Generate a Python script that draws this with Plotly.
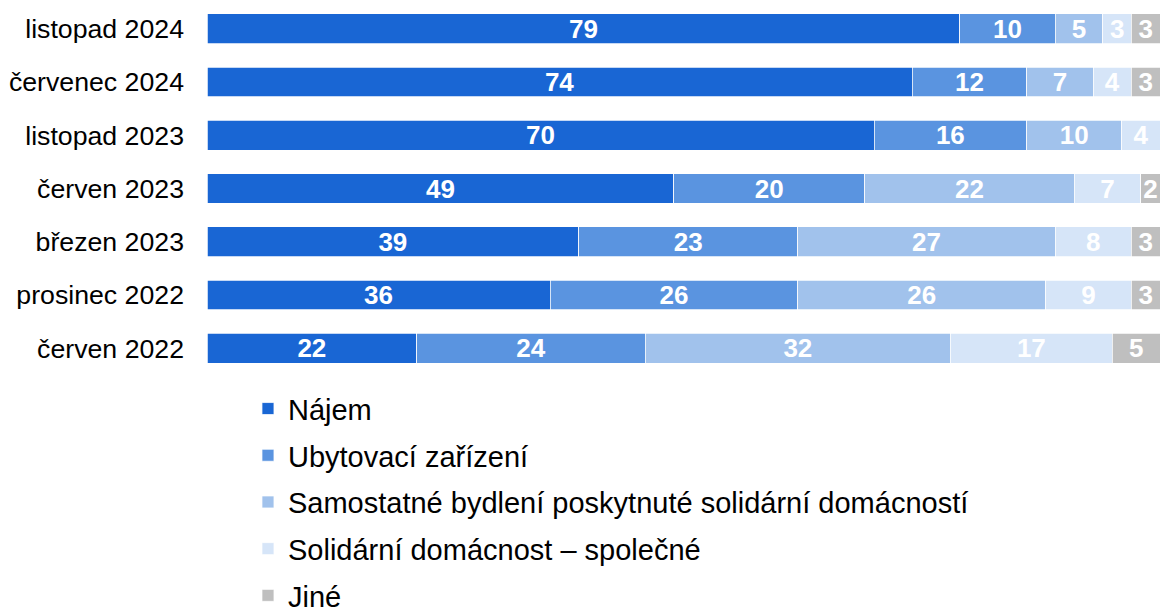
import plotly.graph_objects as go

PERIODS = [
    "listopad 2024",
    "červenec 2024",
    "listopad 2023",
    "červen 2023",
    "březen 2023",
    "prosinec 2022",
    "červen 2022",
]

SERIES = [
    "Nájem",
    "Ubytovací zařízení",
    "Samostatné bydlení poskytnuté solidární domácností",
    "Solidární domácnost – společné",
    "Jiné",
]

NAJEM = [79, 74, 70, 49, 39, 36, 22]
UBYTOVACI = [10, 12, 16, 20, 23, 26, 24]
SAMOSTATNE = [5, 7, 10, 22, 27, 26, 32]
SOLIDARNI = [3, 4, 4, 7, 8, 9, 17]
JINE = [3, 3, None, 2, 3, 3, 5]

COLORS = ["#1966D4", "#5A94E0", "#A1C2EC", "#D6E5F8", "#BFBFBF"]

fig = go.Figure()

for i, (name, vals) in enumerate(zip(SERIES, [NAJEM, UBYTOVACI, SAMOSTATNE, SOLIDARNI, JINE])):
    fig.add_trace(
        go.Bar(
            y=PERIODS,
            x=vals,
            name=name,
            orientation="h",
            legendgroup=f"g{i}",
            marker=dict(color=COLORS[i], line=dict(color="white", width=0.75)),
            text=["" if v is None else str(v) for v in vals],
            textposition="inside",
            insidetextanchor="middle",
            textangle=0,
            constraintext="none",
            cliponaxis=False,
            textfont=dict(family="Arial", size=26, color="white", weight="bold"),
            hoverinfo="skip",
        )
    )

fig.update_layout(
    barmode="stack",
    bargap=0.44,
    width=1161,
    height=607,
    margin=dict(l=207, r=1, t=2, b=232, autoexpand=False),
    plot_bgcolor="white",
    paper_bgcolor="white",
    font=dict(family="Arial", color="black"),
    uniformtext=dict(minsize=26, mode="show"),
    showlegend=True,
    legend=dict(
        orientation="v",
        x=0.043,
        xanchor="left",
        y=-0.022,
        yanchor="top",
        font=dict(size=29, family="Arial", color="black"),
        tracegroupgap=6,
        itemwidth=30,
        traceorder="grouped",
    ),
)

fig.update_xaxes(range=[0, 100], visible=False, showgrid=False)
fig.update_yaxes(
    categoryorder="array",
    categoryarray=PERIODS,
    autorange="reversed",
    showgrid=False,
    showline=False,
    ticks="",
    ticklabelstandoff=22,
    tickfont=dict(size=26.7, family="Arial", color="black"),
)

# drop the default page margin so the figure sits at the window's corner
fig.write_html(
    "out.html",
    config={"displayModeBar": False},
    post_script="document.body.style.margin='0';",
)
